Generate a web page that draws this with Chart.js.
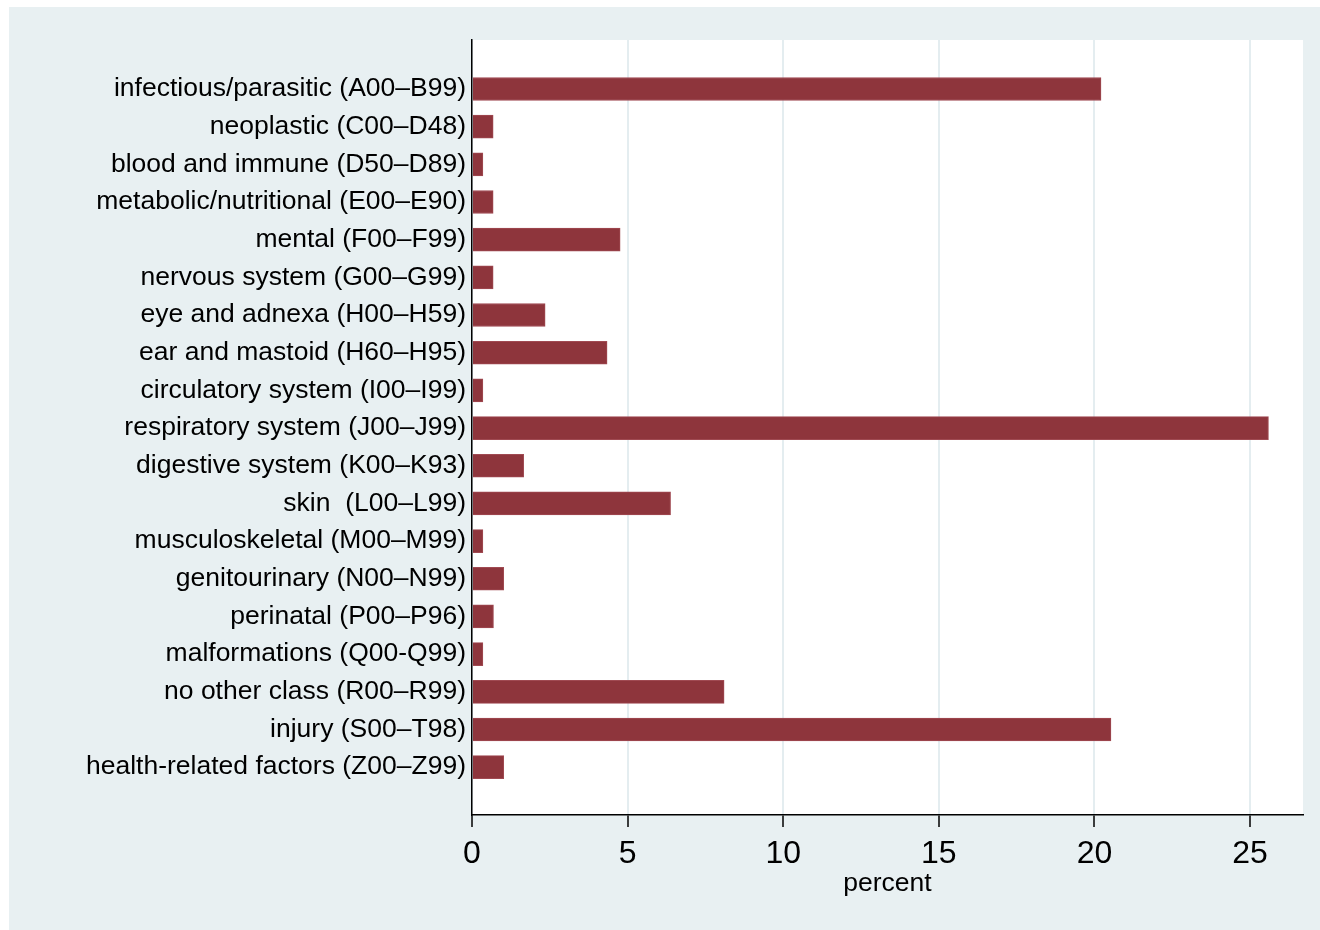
<!DOCTYPE html>
<html>
<head>
<meta charset="utf-8">
<script src="https://cdn.jsdelivr.net/npm/chart.js@4/dist/chart.umd.min.js"></script>
<style>
  html, body { margin: 0; padding: 0; background: #ffffff; }
  #wrap { width: 1320px; height: 930px; position: relative; }
</style>
</head>
<body>
<div id="wrap"><canvas id="chart"></canvas></div>
<script>
// ICD-10 chapter groups, top to bottom
const categories = [
  "infectious/parasitic (A00\u2013B99)",
  "neoplastic (C00\u2013D48)",
  "blood and immune (D50\u2013D89)",
  "metabolic/nutritional (E00\u2013E90)",
  "mental (F00\u2013F99)",
  "nervous system (G00\u2013G99)",
  "eye and adnexa (H00\u2013H59)",
  "ear and mastoid (H60\u2013H95)",
  "circulatory system (I00\u2013I99)",
  "respiratory system (J00\u2013J99)",
  "digestive system (K00\u2013K93)",
  "skin  (L00\u2013L99)",
  "musculoskeletal (M00\u2013M99)",
  "genitourinary (N00\u2013N99)",
  "perinatal (P00\u2013P96)",
  "malformations (Q00-Q99)",
  "no other class (R00\u2013R99)",
  "injury (S00\u2013T98)",
  "health-related factors (Z00\u2013Z99)"
];

// share of cases in each group, percent
const percentValues = [
  20.21, 0.68, 0.35, 0.68, 4.76, 0.68, 2.35, 4.34, 0.35, 25.59,
  1.66, 6.38, 0.35, 1.02, 0.69, 0.35, 8.10, 20.53, 1.02
];

// x axis tick values
const xTickValues = [0, 5, 10, 15, 20, 25];

const FONT = "'Liberation Sans', Arial, Helvetica, sans-serif";

// grey outer region and white plot region
const backdrop = {
  id: 'backdrop',
  beforeDraw(chart) {
    const { ctx, chartArea: a } = chart;
    ctx.save();
    ctx.fillStyle = '#ffffff';
    ctx.fillRect(0, 0, chart.width, chart.height);
    ctx.fillStyle = '#E8F0F2';
    ctx.fillRect(9, 7, chart.width - 9, chart.height - 7);
    ctx.fillStyle = '#ffffff';
    ctx.fillRect(a.left, a.top, a.right - a.left, a.bottom - a.top);
    ctx.restore();
  }
};

new Chart(document.getElementById('chart'), {
  type: 'bar',
  plugins: [backdrop],
  data: {
    datasets: [{
      data: percentValues.map((v, i) => ({ x: v, y: i })),
      backgroundColor: '#8E353C',
      borderColor: '#A04A52',
      borderWidth: 1,
      borderSkipped: 'start',
      barThickness: 23
    }]
  },
  options: {
    indexAxis: 'y',
    responsive: true,
    maintainAspectRatio: false,
    devicePixelRatio: 1,
    animation: false,
    layout: { padding: { top: 40, right: 17, left: 0, bottom: 0 } },
    plugins: {
      legend: { display: false },
      tooltip: { enabled: false }
    },
    scales: {
      x: {
        type: 'linear',
        position: 'bottom',
        min: 0,
        max: 26.7,
        afterBuildTicks(scale) {
          scale.ticks = xTickValues.map(v => ({ value: v }));
        },
        afterFit(scale) { scale.height = 115; },
        grid: {
          color: '#E4EDF0',
          lineWidth: 2,
          drawTicks: true,
          tickLength: 12,
          tickColor: '#000000',
          tickWidth: 1.5
        },
        border: { display: true, color: '#000000', width: 1.5 },
        ticks: {
          color: '#000000',
          font: { family: FONT, size: 32 },
          padding: 8,
          maxRotation: 0
        },
        title: {
          display: true,
          text: 'percent',
          color: '#000000',
          font: { family: FONT, size: 26.5 },
          padding: { top: 0, bottom: 30 }
        }
      },
      y: {
        type: 'linear',
        reverse: true,
        offset: false,
        min: -1.3,
        max: 19.27,
        afterBuildTicks(scale) {
          scale.ticks = categories.map((_, i) => ({ value: i }));
        },
        afterFit(scale) { scale.width = 472; },
        grid: { display: false, drawTicks: false },
        border: { display: true, color: '#000000', width: 1.5 },
        ticks: {
          color: '#000000',
          font: { family: FONT, size: 26.5 },
          padding: 6,
          autoSkip: false,
          callback: (v) => categories[v]
        }
      }
    }
  }
});
</script>
</body>
</html>
